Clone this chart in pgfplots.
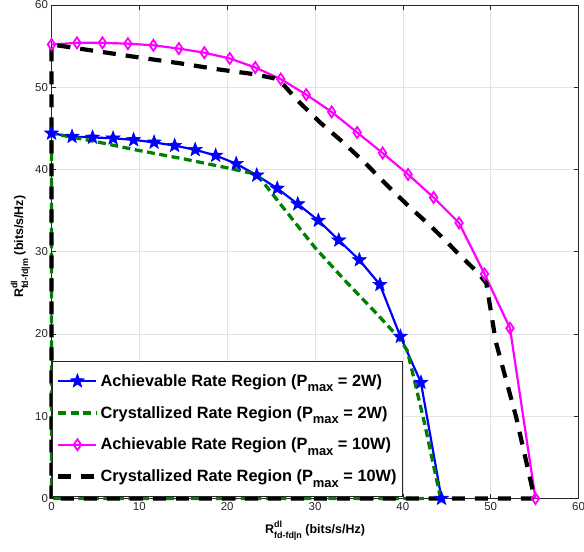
\documentclass[border=0pt]{standalone}
\usepackage{fontspec}
\setmainfont{Liberation Sans}
\usepackage{pgfplots}
\pgfplotsset{compat=1.18}
\definecolor{mygreen}{rgb}{0,0.5,0}
\definecolor{mymag}{rgb}{1,0,1}
\definecolor{myblue}{rgb}{0,0,1}
\definecolor{axgray}{rgb}{0.15,0.15,0.15}
\definecolor{gridgray}{rgb}{0.89,0.89,0.89}
\pgfdeclareplotmark{fstar}{%
  \pgfpathmoveto{\pgfpointpolar{90}{\pgfplotmarksize}}%
  \pgfpathlineto{\pgfpointpolar{126}{0.42\pgfplotmarksize}}%
  \pgfpathlineto{\pgfpointpolar{162}{\pgfplotmarksize}}%
  \pgfpathlineto{\pgfpointpolar{198}{0.42\pgfplotmarksize}}%
  \pgfpathlineto{\pgfpointpolar{234}{\pgfplotmarksize}}%
  \pgfpathlineto{\pgfpointpolar{270}{0.42\pgfplotmarksize}}%
  \pgfpathlineto{\pgfpointpolar{306}{\pgfplotmarksize}}%
  \pgfpathlineto{\pgfpointpolar{342}{0.42\pgfplotmarksize}}%
  \pgfpathlineto{\pgfpointpolar{18}{\pgfplotmarksize}}%
  \pgfpathlineto{\pgfpointpolar{54}{0.42\pgfplotmarksize}}%
  \pgfpathclose\pgfusepathqfillstroke}
\pgfdeclareplotmark{hdiamond}{%
  \pgfpathmoveto{\pgfpoint{0pt}{\pgfplotmarksize}}%
  \pgfpathlineto{\pgfpoint{0.68\pgfplotmarksize}{0pt}}%
  \pgfpathlineto{\pgfpoint{0pt}{-\pgfplotmarksize}}%
  \pgfpathlineto{\pgfpoint{-0.68\pgfplotmarksize}{0pt}}%
  \pgfpathclose\pgfusepathqstroke}
\newcommand{\Rlab}[1]{R\rlap{\raisebox{0.85ex}{\fontsize{9}{9}\selectfont dl}}\raisebox{-0.75ex}{\fontsize{9}{9}\selectfont fd-fd|#1}}
\newcommand{\Pmax}{P\raisebox{-5.5bp}{\fontsize{13}{13}\selectfont max}}
\begin{document}
\begin{tikzpicture}
\begin{axis}[
  scale only axis,
  width=527bp, height=493.5bp,
  xmin=0, xmax=60, ymin=0, ymax=60,
  clip=false,
  xtick={0,10,...,60}, ytick={0,10,...,60},
  grid=major,
  major grid style={gridgray, line width=0.6bp},
  axis line style={axgray, line width=0.6bp},
  tick style={axgray, line width=0.6bp},
  tick align=inside,
  major tick length=5bp,
  ticklabel style={font=\fontsize{11.5}{13}\selectfont, text=axgray},
  /pgf/number format/assume math mode=true,
  xlabel={\Rlab{n} (bits/s/Hz)},
  ylabel={\Rlab{m} (bits/s/Hz)},
  label style={font=\fontsize{12.5}{14}\selectfont\bfseries, text=black},
  xlabel style={at={(axis description cs:0.5,0)}, anchor=center, yshift=-32bp},
  ylabel style={at={(axis description cs:0,0.51)}, anchor=center, yshift=31bp},
  legend style={at={(0.001,0.003)}, anchor=south west, draw=axgray, fill=white,
    font=\fontsize{16.4}{18}\selectfont\bfseries, row sep=14.5bp, inner xsep=4bp, inner ysep=11.5bp, line width=0.6bp},
  legend cell align=left,
  legend image code/.code={%
    \draw[mark repeat=2,mark phase=2,#1] plot coordinates {(0bp,0bp) (19bp,0bp) (38bp,0bp)};},
]
\addplot[myblue, line width=2.2bp, mark=fstar, mark size=7.3bp, mark options={solid, fill=myblue, line width=0.6bp}] coordinates {
(0,44.4) (2.34,44.0) (4.67,43.9) (7.01,43.8) (9.35,43.6) (11.68,43.3) (14.02,42.9) (16.36,42.4) (18.69,41.7) (21.03,40.7)
(23.37,39.3) (25.70,37.7) (28.04,35.8) (30.38,33.8) (32.71,31.4) (35.05,29.0) (37.39,26.0) (39.72,19.7) (42.06,14.1) (44.4,0)
};
\addlegendentry{Achievable Rate Region (\Pmax{} = 2W)}
\addplot[mygreen, line width=3.3bp, dash pattern=on 8bp off 4.5bp, mark=none] coordinates {
(0,0) (0,44.4) (5,43.4) (10,42.3) (15,41.3) (20,40.2) (23.4,39.4) (26.5,35.2) (30,30.5) (33.5,26.4) (37,22.5)
(39.5,19.6) (40.5,18.0) (41.4,14) (42.5,9) (44.3,0) (0,0)
};
\addlegendentry{Crystallized Rate Region (\Pmax{} = 2W)}
\addplot[mymag, line width=2.2bp, mark=hdiamond, mark size=5.5bp, mark options={solid, line width=1.8bp}] coordinates {
(0,55.2) (2.9,55.4) (5.8,55.4) (8.7,55.3) (11.6,55.1) (14.5,54.7) (17.4,54.2) (20.3,53.5) (23.2,52.4) (26.1,51.0)
(29.0,49.1) (31.9,47.0) (34.8,44.5) (37.7,42.0) (40.6,39.4) (43.5,36.6) (46.4,33.5) (49.3,27.3) (52.2,20.7) (55.1,0)
};
\addlegendentry{Achievable Rate Region (\Pmax{} = 10W)}
\addplot[black, line width=4.2bp, dash pattern=on 13bp off 10bp, mark=none] coordinates {
(0,0) (0,55.2) (2.5,54.8) (6.3,54.2) (10.1,53.6) (14.7,52.9) (18.8,52.2) (23,51.6) (25.3,51.1) (26.5,50.2) (28.1,48.3)
(30.6,45.7) (33.2,43.3) (35.7,40.8) (38.1,38.2) (40.6,35.6) (43.1,33.2) (45,31.2) (46.1,30.0) (48.4,27.6) (49.5,26.2)
(50.6,19.0) (52.9,9.9) (55.0,0) (0,0)
};
\addlegendentry{Crystallized Rate Region (\Pmax{} = 10W)}
\coordinate (ll) at (rel axis cs:0,0);
\coordinate (ur) at (rel axis cs:1,1);
\end{axis}
\pgfresetboundingbox
\path[use as bounding box] ([xshift=-51.5bp,yshift=-53.5bp]ll) rectangle ([xshift=5.5bp,yshift=5bp]ur);
\end{tikzpicture}
\end{document}
